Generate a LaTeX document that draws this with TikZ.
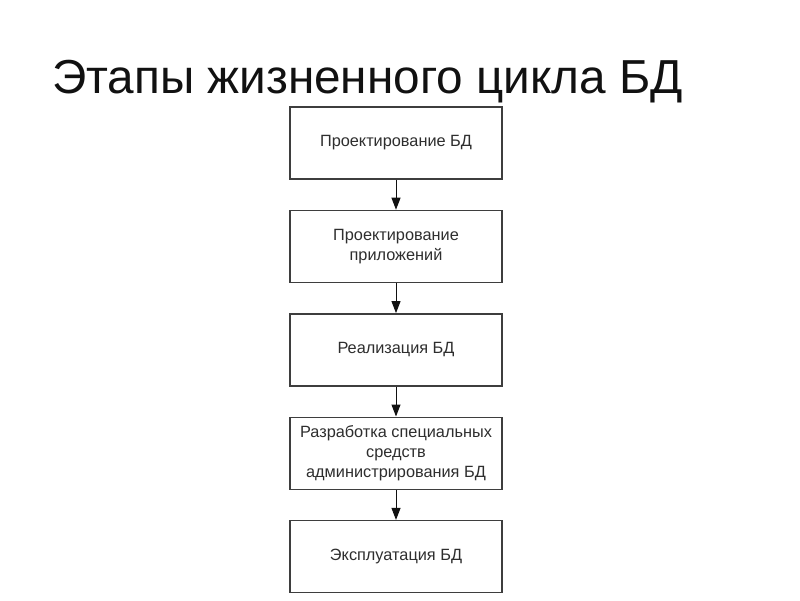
\documentclass[tikz,border=0pt]{standalone}
\usepackage{fontspec}
\setmainfont{Liberation Sans}
\setsansfont{Liberation Sans}
\usetikzlibrary{arrows.meta,positioning}
\definecolor{ink}{HTML}{111111}
\definecolor{frame}{HTML}{3E3E3E}
\definecolor{label}{HTML}{2E2E2E}

\begin{document}
\begin{tikzpicture}[
  font=\sffamily, x=1pt, y=-1pt,
  stage/.style={draw=frame, fill=white, line width=1.4pt, align=center,
                font=\fontsize{16.3}{20}\selectfont, text=label,
                minimum width=212pt, minimum height=72pt, inner sep=2pt},
  ttl/.style={font=\fontsize{47.7}{52}\selectfont, text=ink, inner sep=0pt},
  ar/.style={-{Triangle[length=12pt, width=9pt]}, draw=ink, line width=1pt},
  node distance=30pt,
]
\useasboundingbox (0,0) rectangle (800,600);

%% ================= title =================
\node[ttl, anchor=base west] (title) at (52,93) {Этапы жизненного цикла БД};

%% ================= stages =================
\node[stage] (s1) at (396,143) {Проектирование БД};
\node[stage, below=of s1] (s2) {Проектирование\\приложений};
\node[stage, below=of s2] (s3) {Реализация БД};
\node[stage, below=of s3] (s4) {Разработка специальных\\средств\\администрирования БД};
\node[stage, below=of s4] (s5) {Эксплуатация БД};

\foreach \a/\b in {s1/s2,s2/s3,s3/s4,s4/s5}
  \draw[ar] (\a.south) -- (\b.north);

\end{tikzpicture}
\end{document}
